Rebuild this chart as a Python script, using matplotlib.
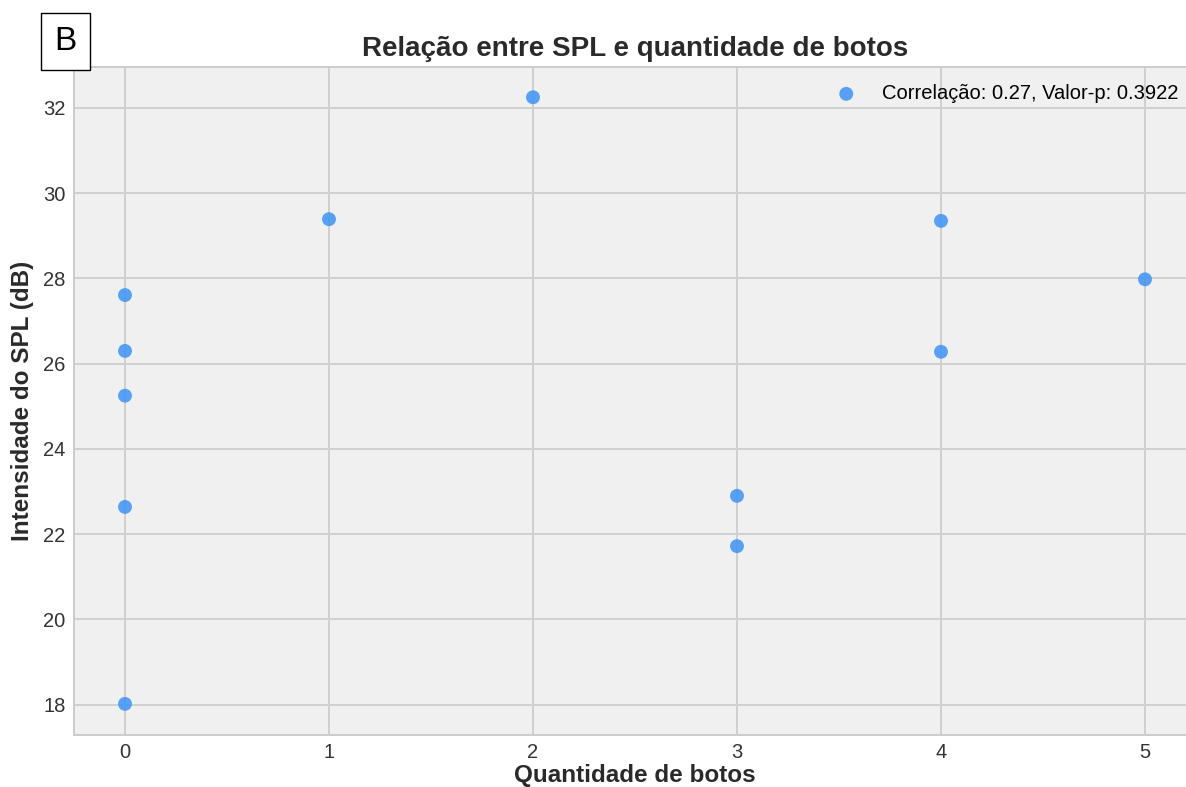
import matplotlib.pyplot as plt

plt.rcParams['font.family'] = ['Liberation Sans', 'DejaVu Sans']

botos = [0, 0, 0, 0, 0, 1, 2, 3, 3, 4, 4, 5]
spl = [27.61, 26.30, 25.25, 22.64, 18.02, 29.39, 32.25, 22.90, 21.72, 29.35, 26.28, 27.98]
legenda = 'Correlação: 0.27, Valor-p: 0.3922'

fig = plt.figure(figsize=(11.86, 7.87), dpi=100)
ax = fig.add_axes([74 / 1186, 52 / 787, (1196 - 74) / 1186, (735 - 67) / 787])
ax.set_facecolor('#f0f0f0')

ax.scatter(botos, spl, s=100, color='#3b94f6', alpha=0.85, edgecolors='none',
           label=legenda, zorder=3)

ax.set_xlim(-0.25, 5.25)
ax.set_ylim(17.29, 32.96)
ax.set_xticks([0, 1, 2, 3, 4, 5])
ax.set_yticks([18, 20, 22, 24, 26, 28, 30, 32])
ax.grid(True, color='#d0d0d0', linewidth=1.4)
ax.set_axisbelow(True)
for s in ax.spines.values():
    s.set_color('#cccccc')
    s.set_linewidth(1.4)
ax.tick_params(length=0, labelsize=14.5, labelcolor='#333333', pad=6)

ax.set_title('Relação entre SPL e quantidade de botos', fontsize=20,
             fontweight='bold', color='#2a2a2a', pad=8)
ax.set_xlabel('Quantidade de botos', fontsize=17.5, fontweight='bold', color='#2a2a2a', labelpad=1.5)
ax.set_ylabel('Intensidade do SPL (dB)', fontsize=17.5, fontweight='bold', color='#2a2a2a', labelpad=7)

ax.legend(loc='upper right', bbox_to_anchor=(1 + 10 / 1186, 1 - 66 / 787),
          bbox_transform=fig.transFigure, frameon=False, fontsize=14.5,
          handletextpad=0.75)

fig.text(65.5 / 1186, 1 - 41.5 / 787, 'B', fontsize=24, ha='center', va='center',
         bbox=dict(boxstyle='square,pad=0.4', facecolor='white', edgecolor='black', linewidth=1))

fig.savefig('out.png', dpi=100)
